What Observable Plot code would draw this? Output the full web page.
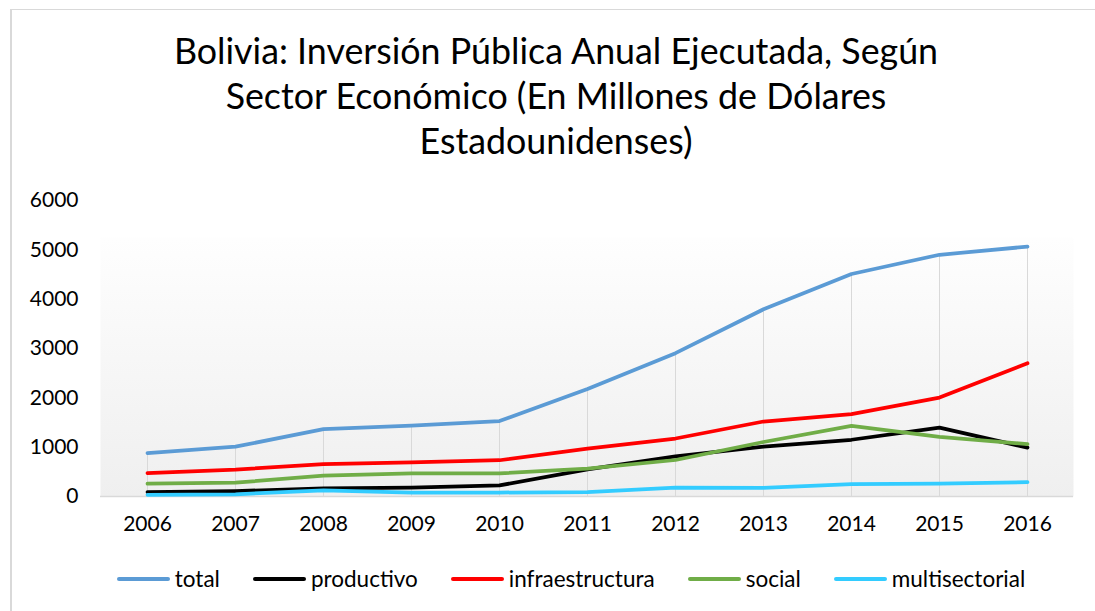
<!DOCTYPE html>
<html>
<head>
<meta charset="utf-8">
<script src="https://cdn.jsdelivr.net/npm/d3@7"></script>
<script src="https://cdn.jsdelivr.net/npm/@observablehq/plot@0.6"></script>
<style>
  html, body { margin: 0; padding: 0; background: #fff; }
  #wrap { position: relative; width: 1095px; height: 611px; overflow: hidden; background: #fff; font-family: Lato, sans-serif; color: #000; }
  #border { position: absolute; left: 10px; top: 9px; width: 1200px; height: 700px; border-left: 2px solid #d9d9d9; border-top: 1px solid #d9d9d9; }
  #title { position: absolute; left: 0; width: 1112px; top: 28px; text-align: center; font-size: 35.8px; line-height: 45px; }
  #chart { position: absolute; left: 0; top: 0; }
  #legend { position: absolute; left: 0; width: 1142px; top: 564px; display: flex; justify-content: center; align-items: center; font-size: 22.5px; line-height: 30px; }
  .item { display: flex; align-items: center; margin: 0 16.5px; }
  .sw { width: 53px; height: 4px; border-radius: 2px; margin-right: 5px; }
</style>
</head>
<body>
<div id="wrap">
  <div id="border"></div>
  <div id="title">Bolivia: Inversión Pública Anual Ejecutada, Según<br>Sector Económico (En Millones de Dólares<br>Estadounidenses)</div>
  <div id="chart"></div>
  <div id="legend"></div>
</div>
<script>
const years = [2006, 2007, 2008, 2009, 2010, 2011, 2012, 2013, 2014, 2015, 2016];
const total = [880, 1010, 1365, 1435, 1530, 2180, 2905, 3795, 4510, 4900, 5065];
const productivo = [90, 110, 165, 180, 225, 550, 815, 1010, 1150, 1395, 990];
const infraestructura = [475, 545, 655, 690, 735, 970, 1175, 1520, 1670, 2005, 2700];
const social = [260, 280, 425, 470, 470, 565, 740, 1105, 1430, 1210, 1060];
const multisectorial = [35, 45, 125, 80, 80, 90, 180, 175, 250, 260, 290];
const yTicks = [0, 1000, 2000, 3000, 4000, 5000, 6000];

const seriesNames = ["total", "productivo", "infraestructura", "social", "multisectorial"];
const seriesValues = [total, productivo, infraestructura, social, multisectorial];
const seriesColors = ["#5b9bd5", "#000000", "#ff0000", "#70ad47", "#33ccff"];

const rows = [];
seriesNames.forEach((name, i) => {
  years.forEach((yr, j) => rows.push({serie: name, year: yr, value: seriesValues[i][j]}));
});
const totalRows = years.map((yr, j) => ({year: yr, value: total[j]}));

const plot = Plot.plot({
  width: 1095,
  height: 611,
  marginLeft: 100,
  marginRight: 22,
  marginTop: 237,
  marginBottom: 115,
  style: {fontFamily: "Lato, sans-serif", color: "#000", background: "transparent", overflow: "visible"},
  x: {type: "point", domain: years, padding: 0.5},
  y: {domain: [0, 6000], range: [496, 200]},
  color: {domain: seriesNames, range: seriesColors},
  marks: [
    Plot.frame({fill: "url(#bgGrad)", stroke: null}),
    Plot.ruleX(totalRows, {x: "year", y1: 0, y2: "value", stroke: "#d9d9d9", strokeWidth: 1}),
    Plot.ruleY([0], {stroke: "#d9d9d9", strokeWidth: 1.5}),
    Plot.axisY({ticks: yTicks, tickSize: 0, tickPadding: 22, fontSize: 21, tickFormat: d => String(d), label: null}),
    Plot.axisX({tickSize: 0, tickPadding: 20, fontSize: 21, tickFormat: d => String(d), label: null}),
    Plot.line(rows, {x: "year", y: "value", z: "serie", stroke: "serie", strokeWidth: 3.75, strokeLinecap: "round", strokeLinejoin: "round"})
  ]
});

d3.select(plot).insert("defs", ":first-child").html(
  '<linearGradient id="bgGrad" x1="0" y1="0" x2="0" y2="1">' +
  '<stop offset="0" stop-color="#fefefe"/><stop offset="1" stop-color="#efefef"/></linearGradient>'
);
document.getElementById("chart").appendChild(plot);

const legend = d3.select("#legend");
seriesNames.forEach((name, i) => {
  const it = legend.append("div").attr("class", "item");
  it.append("div").attr("class", "sw").style("background", seriesColors[i]);
  it.append("span").text(name);
});
</script>
</body>
</html>
